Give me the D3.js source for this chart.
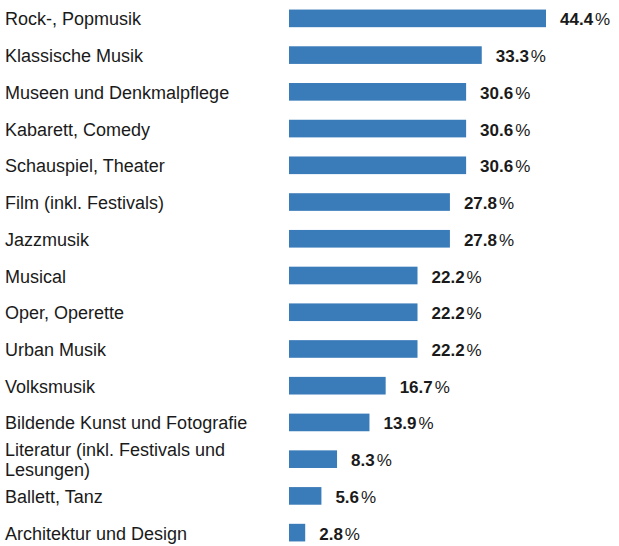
<!DOCTYPE html>
<html>
<head>
<meta charset="utf-8">
<style>
  body { margin: 0; background: #fff; }
  text { font-family: "Liberation Sans", Arial, sans-serif; fill: #1a1a1a; }
</style>
</head>
<body>
<script src="https://d3js.org/d3.v7.min.js"></script>
<script>
var categories = [
  "Rock-, Popmusik", "Klassische Musik", "Museen und Denkmalpflege", "Kabarett, Comedy",
  "Schauspiel, Theater", "Film (inkl. Festivals)", "Jazzmusik", "Musical",
  "Oper, Operette", "Urban Musik", "Volksmusik", "Bildende Kunst und Fotografie",
  "Literatur (inkl. Festivals und|Lesungen)", "Ballett, Tanz", "Architektur und Design"
];
var values = [44.4, 33.3, 30.6, 30.6, 30.6, 27.8, 27.8, 22.2, 22.2, 22.2, 16.7, 13.9, 8.3, 5.6, 2.8];

var width = 619, height = 546;
var svg = d3.select("body").append("svg").attr("width", width).attr("height", height);

// bars start at x=289, 44.4 ends near 546
var x = d3.scaleLinear().domain([0, 44.4]).range([289, 546]);
var y = d3.scaleBand().domain(d3.range(categories.length)).range([0, 551]).paddingInner(0.52).paddingOuter(0.26);

var rows = svg.selectAll("g.row").data(categories).enter().append("g").attr("class", "row");

rows.append("rect")
  .attr("x", x(0))
  .attr("y", function(d, i){ return y(i); })
  .attr("width", function(d, i){ return x(values[i]) - x(0); })
  .attr("height", y.bandwidth())
  .attr("fill", "#3a7bb9");

rows.each(function(d, i){
  var lines = d.split("|");
  var cy = y(i) + y.bandwidth() / 2;
  var t = d3.select(this).append("text")
    .attr("x", 5)
    .attr("font-size", "18px");
  lines.forEach(function(l, k){
    t.append("tspan")
      .attr("x", 5)
      .attr("y", cy + 7 + (k - (lines.length - 1) / 2) * 20)
      .text(l);
  });
});

var vt = rows.append("text")
  .attr("x", function(d, i){ return x(values[i]) + 14; })
  .attr("y", function(d, i){ return y(i) + y.bandwidth() / 2 + 7; })
  .attr("font-size", "17px");
vt.append("tspan").attr("font-weight", "bold").text(function(d, i){ return values[i].toFixed(1); });
vt.append("tspan").attr("dx", 2).text("%");
</script>
</body>
</html>
